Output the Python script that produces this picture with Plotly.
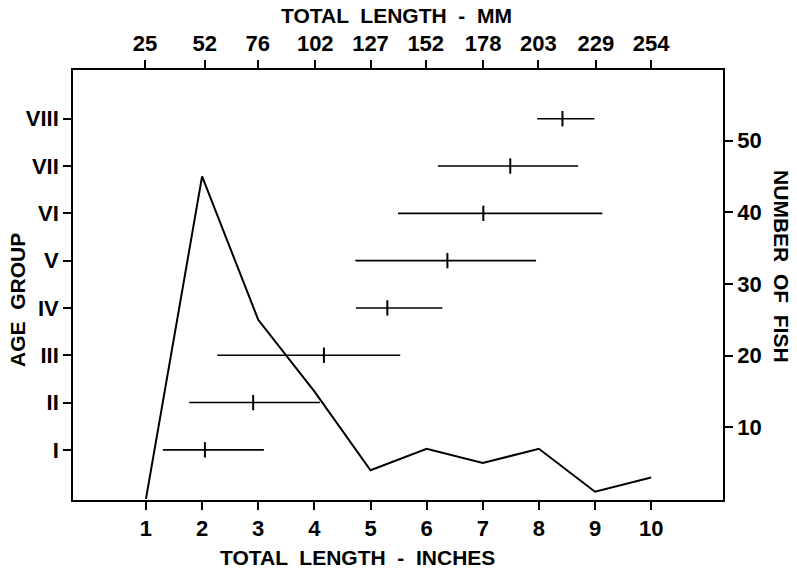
import plotly.graph_objects as go

# ---- data ----
inches = [1, 2, 3, 4, 5, 6, 7, 8, 9, 10]
fish_counts = [0, 45, 25, 15, 4, 7, 5, 7, 1, 3]

age_labels = ["I", "II", "III", "IV", "V", "VI", "VII", "VIII"]
age_pos = [1, 2, 3, 4, 5, 6, 7, 8]
len_min = [1.30, 1.77, 2.27, 4.74, 4.73, 5.49, 6.20, 7.97]
len_max = [3.10, 4.10, 5.53, 6.28, 7.95, 9.13, 8.70, 8.99]
len_mean = [2.05, 2.91, 4.17, 5.30, 6.37, 7.01, 7.49, 8.42]

inch_ticks = [1, 2, 3, 4, 5, 6, 7, 8, 9, 10]
mm_ticks = [25, 52, 76, 102, 127, 152, 178, 203, 229, 254]
count_ticks = [10, 20, 30, 40, 50]

FONT = "Liberation Sans Narrow, Arial Narrow, Liberation Sans, Arial, sans-serif"
INCH_RANGE = [-0.30, 11.28]

fig = go.Figure()

fig.add_trace(go.Scatter(
    x=inches, y=fish_counts, xaxis="x", yaxis="y2",
    mode="lines", line=dict(color="black", width=2),
    showlegend=False, hoverinfo="skip"))

fig.add_trace(go.Scatter(
    x=len_mean, y=age_pos, xaxis="x", yaxis="y",
    mode="markers",
    marker=dict(symbol="line-ns", size=11, line=dict(color="black", width=2), color="black"),
    error_x=dict(type="data", symmetric=False,
                 array=[mx - m for mx, m in zip(len_max, len_mean)],
                 arrayminus=[m - mn for m, mn in zip(len_mean, len_min)],
                 width=0, thickness=1.6, color="black"),
    showlegend=False, hoverinfo="skip"))

# invisible trace so the top millimetre axis is drawn
fig.add_trace(go.Scatter(
    x=[mm_ticks[0]], y=[age_pos[0]], xaxis="x2", yaxis="y",
    mode="markers", marker=dict(opacity=0, size=1),
    showlegend=False, hoverinfo="skip"))

axis_common = dict(
    showgrid=False, zeroline=False, showline=True, linecolor="black", linewidth=1.6,
    ticks="outside", ticklen=8, tickwidth=1.5, tickcolor="black",
    tickfont=dict(family=FONT, size=22, color="black", weight="bold"),
)

fig.update_layout(
    width=797, height=575,
    margin=dict(l=73, r=74, t=70, b=75),
    paper_bgcolor="white", plot_bgcolor="white",
    hovermode=False,
    xaxis=dict(range=INCH_RANGE, tickmode="array", tickvals=inch_ticks, anchor="y", **axis_common),
    xaxis2=dict(range=[v * 25.4 for v in INCH_RANGE], tickmode="array", tickvals=mm_ticks,
                overlaying="x", side="top", anchor="y", **axis_common),
    yaxis=dict(range=[-0.06, 9.03], tickmode="array", tickvals=age_pos, ticktext=age_labels,
               anchor="x", **axis_common),
    yaxis2=dict(range=[-0.15, 59.85], tickmode="array", tickvals=count_ticks,
                overlaying="y", side="right", anchor="x", **axis_common),
)

title_font = dict(family=FONT, size=21, color="black", weight="bold")
fig.add_annotation(text="TOTAL  LENGTH  -  MM", xref="paper", yref="paper", x=0.498, y=1.1256,
                   showarrow=False, font=title_font, xanchor="center", yanchor="middle")
fig.add_annotation(text="TOTAL  LENGTH  -  INCHES", xref="paper", yref="paper", x=0.437, y=-0.1326,
                   showarrow=False, font=title_font, xanchor="center", yanchor="middle")
fig.add_annotation(text="AGE  GROUP", xref="paper", yref="paper", x=-0.0862, y=0.465,
                   showarrow=False, font=title_font, textangle=-90, xanchor="center", yanchor="middle")
fig.add_annotation(text="NUMBER  OF  FISH", xref="paper", yref="paper", x=1.089, y=0.542,
                   showarrow=False, font=title_font, textangle=90, xanchor="center", yanchor="middle")

fig.write_html("out.html", config={"displayModeBar": False},
               post_script="document.body.style.margin='0';document.body.style.overflow='hidden';")
